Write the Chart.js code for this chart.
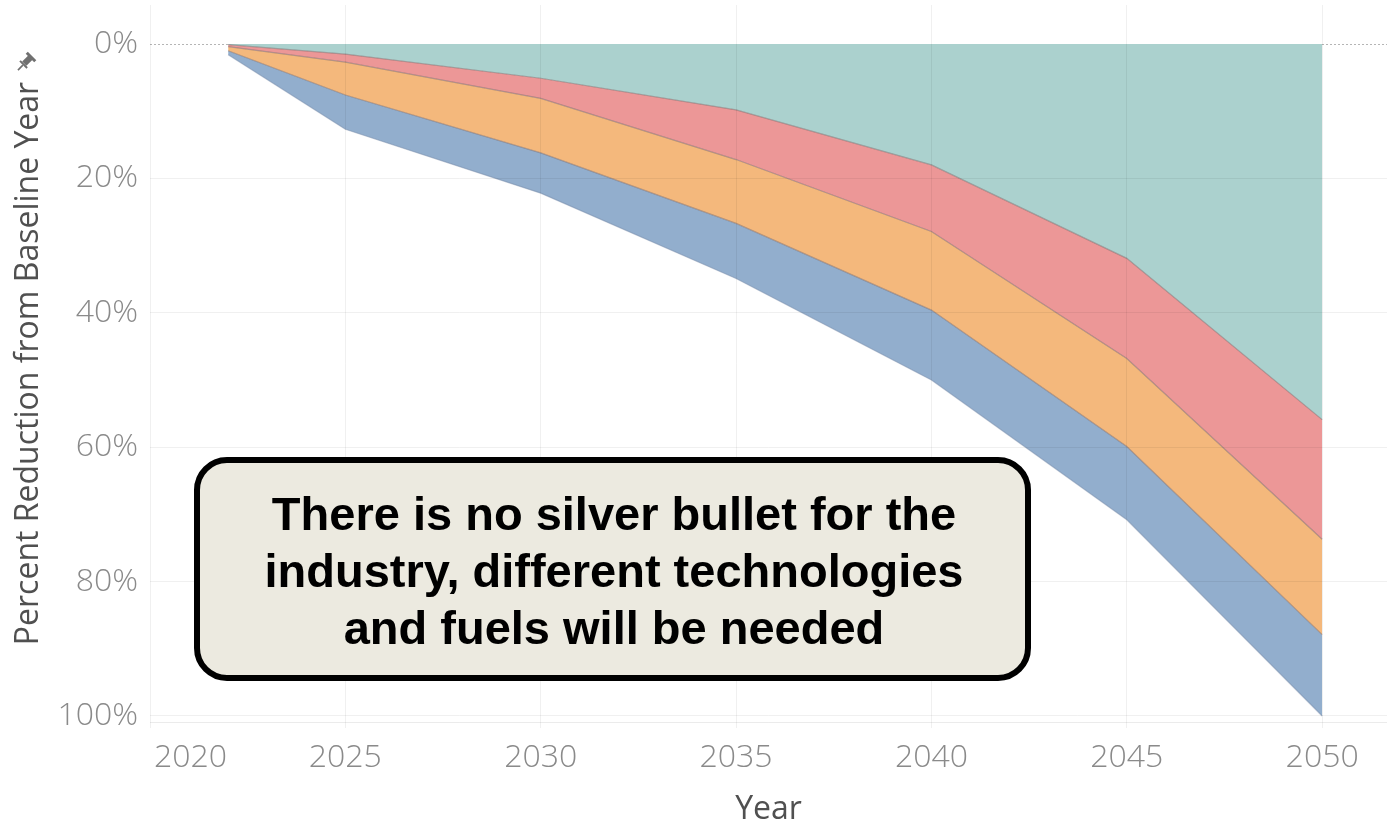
<!DOCTYPE html>
<html>
<head>
<meta charset="utf-8">
<title>Percent Reduction from Baseline Year</title>
<script src="https://cdn.jsdelivr.net/npm/chart.js@4.4.1/dist/chart.umd.min.js"></script>
<style>
    html, body { margin: 0; padding: 0; background: #ffffff; }
    #wrap { width: 1387px; height: 823px; position: relative; }
</style>
</head>
<body>
<div id="wrap"><canvas id="chartReduction"></canvas></div>
<script>
// years where the wedges are defined
const years = [2022, 2025, 2030, 2035, 2040, 2045, 2050];
const yearTicks = [2020, 2025, 2030, 2035, 2040, 2045, 2050];
const pctTicks = [0, 20, 40, 60, 80, 100];

// size of each wedge, in percentage points, stacked from 0% downwards
const wedgeNames = ['Wedge 1', 'Wedge 2', 'Wedge 3', 'Wedge 4'];
const wedge1 = [0.1, 1.5, 5.1, 9.8, 18.0, 31.9, 55.9];
const wedge2 = [0.3, 1.2, 3.0, 7.4, 9.9, 14.9, 17.8];
const wedge3 = [0.6, 4.9, 8.1, 9.5, 11.7, 13.1, 14.2];
const wedge4 = [0.6, 5.1, 6.0, 8.2, 10.4, 10.9, 12.1];

const calloutLines = [
    'There is no silver bullet for the',
    'industry, different technologies',
    'and fuels will be needed'
];

const tickFont = { family: '"Open Sans", sans-serif', size: 32, weight: 300 };
const titleFont = { family: '"Open Sans", sans-serif', size: 32, weight: 400, lineHeight: 0.8 };
const gridColor = 'rgba(0,0,0,0.06)';

function toPoints(values) {
    return years.map((yr, i) => ({ x: yr, y: values[i] }));
}

function wedge(label, values, color, line, fill) {
    return {
        label: label,
        data: toPoints(values),
        backgroundColor: color,
        borderColor: line,
        borderWidth: 1.2,
        pointRadius: 0,
        tension: 0,
        fill: fill
    };
}

const overlayPlugin = {
    id: 'overlay',
    beforeDatasetsDraw(chart) {
        const ctx = chart.ctx;
        const area = chart.chartArea;
        ctx.save();
        // axis line along the bottom of the plot
        ctx.strokeStyle = 'rgba(0,0,0,0.08)';
        ctx.lineWidth = 1;
        ctx.beginPath();
        ctx.moveTo(area.left, Math.round(area.bottom) + 0.5);
        ctx.lineTo(area.right, Math.round(area.bottom) + 0.5);
        ctx.stroke();
        // dotted zero line
        const y0 = Math.round(chart.scales.y.getPixelForValue(0)) + 0.5;
        ctx.strokeStyle = '#b5b5b5';
        ctx.setLineDash([2, 2]);
        ctx.beginPath();
        ctx.moveTo(area.left, y0);
        ctx.lineTo(area.right, y0);
        ctx.stroke();
        ctx.restore();
    },
    afterDraw(chart) {
        const ctx = chart.ctx;
        const area = chart.chartArea;
        const xs = chart.scales.x;

        // first year label sits inside the axis start
        const items = xs.getLabelItems();
        const ref = items[1];
        ctx.save();
        ctx.font = `${tickFont.weight} ${tickFont.size}px ${tickFont.family}`;
        ctx.fillStyle = '#8a8a8a';
        ctx.textAlign = 'left';
        ctx.textBaseline = ref.options.textBaseline;
        ctx.fillText(String(yearTicks[0]), area.left + 4, ref.options.translation[1] + ref.textOffset);
        ctx.restore();

        // pin icon after the y axis title
        ctx.save();
        ctx.translate(25, 63);
        ctx.rotate(Math.PI / 4);
        ctx.fillStyle = '#707070';
        ctx.fillRect(-3, -8, 6, 9);
        ctx.fillRect(-6, -10, 12, 3);
        ctx.fillRect(-5, 1, 10, 2);
        ctx.fillRect(-0.8, 3, 1.6, 7);
        ctx.restore();

        // callout box
        ctx.save();
        ctx.beginPath();
        ctx.roundRect(197, 460, 831, 218, 30);
        ctx.fillStyle = '#ECEAE0';
        ctx.fill();
        ctx.lineWidth = 6;
        ctx.strokeStyle = '#000000';
        ctx.stroke();
        ctx.fillStyle = '#000000';
        ctx.font = 'bold 47px "Liberation Sans", Arial, sans-serif';
        ctx.textAlign = 'center';
        ctx.textBaseline = 'alphabetic';
        calloutLines.forEach((line, i) => {
            ctx.fillText(line, 614, 530 + i * 57);
        });
        ctx.restore();
    }
};

const ctx = document.getElementById('chartReduction');
new Chart(ctx.getContext('2d'), {
    type: 'line',
    data: {
        datasets: [
            wedge(wedgeNames[0], wedge1, '#ABD1CE', 'rgba(125,110,110,0.55)', 'origin'),
            wedge(wedgeNames[1], wedge2, '#EC9797', 'rgba(125,110,110,0.55)', '-1'),
            wedge(wedgeNames[2], wedge3, '#F4B87C', 'rgba(125,110,110,0.55)', '-1'),
            wedge(wedgeNames[3], wedge4, '#92AECD', 'rgba(120,140,170,0.5)', '-1')
        ]
    },
    options: {
        responsive: true,
        maintainAspectRatio: false,
        animation: false,
        layout: { padding: { top: 5, right: 0, left: 0, bottom: 0 } },
        plugins: {
            legend: { display: false },
            tooltip: { enabled: false }
        },
        scales: {
            x: {
                type: 'linear',
                min: 2020,
                max: 2051.66,
                afterBuildTicks: (scale) => { scale.ticks = yearTicks.map(v => ({ value: v })); },
                afterFit: (scale) => {
                    scale.height = 101;
                    scale.paddingLeft = 0;
                    scale.paddingRight = 0;
                },
                ticks: {
                    color: '#8a8a8a',
                    font: tickFont,
                    padding: 11,
                    maxRotation: 0,
                    callback: (v) => (v === yearTicks[0] ? '' : String(v))
                },
                grid: {
                    color: gridColor,
                    tickColor: gridColor,
                    tickLength: 6,
                    z: 1
                },
                border: { display: false },
                title: {
                    display: true,
                    text: 'Year',
                    color: '#505050',
                    font: titleFont,
                    padding: { top: 0, bottom: 0 }
                }
            },
            y: {
                type: 'linear',
                stacked: true,
                reverse: true,
                min: -5.8,
                max: 100.9,
                afterBuildTicks: (scale) => { scale.ticks = pctTicks.map(v => ({ value: v })); },
                afterFit: (scale) => {
                    scale.width = 150;
                    scale.paddingTop = 0;
                    scale.paddingBottom = 0;
                },
                ticks: {
                    color: '#8a8a8a',
                    font: tickFont,
                    padding: 12,
                    callback: (v) => v + '%'
                },
                grid: {
                    color: (c) => (c.tick && c.tick.value === 0 ? 'rgba(0,0,0,0)' : gridColor),
                    drawTicks: false,
                    z: 1
                },
                border: { display: false },
                title: {
                    display: true,
                    text: 'Percent Reduction from Baseline Year',
                    color: '#505050',
                    font: { family: titleFont.family, size: 32, weight: 400 },
                    padding: { top: 10, bottom: 0 }
                }
            }
        }
    },
    plugins: [overlayPlugin]
});
</script>
</body>
</html>
